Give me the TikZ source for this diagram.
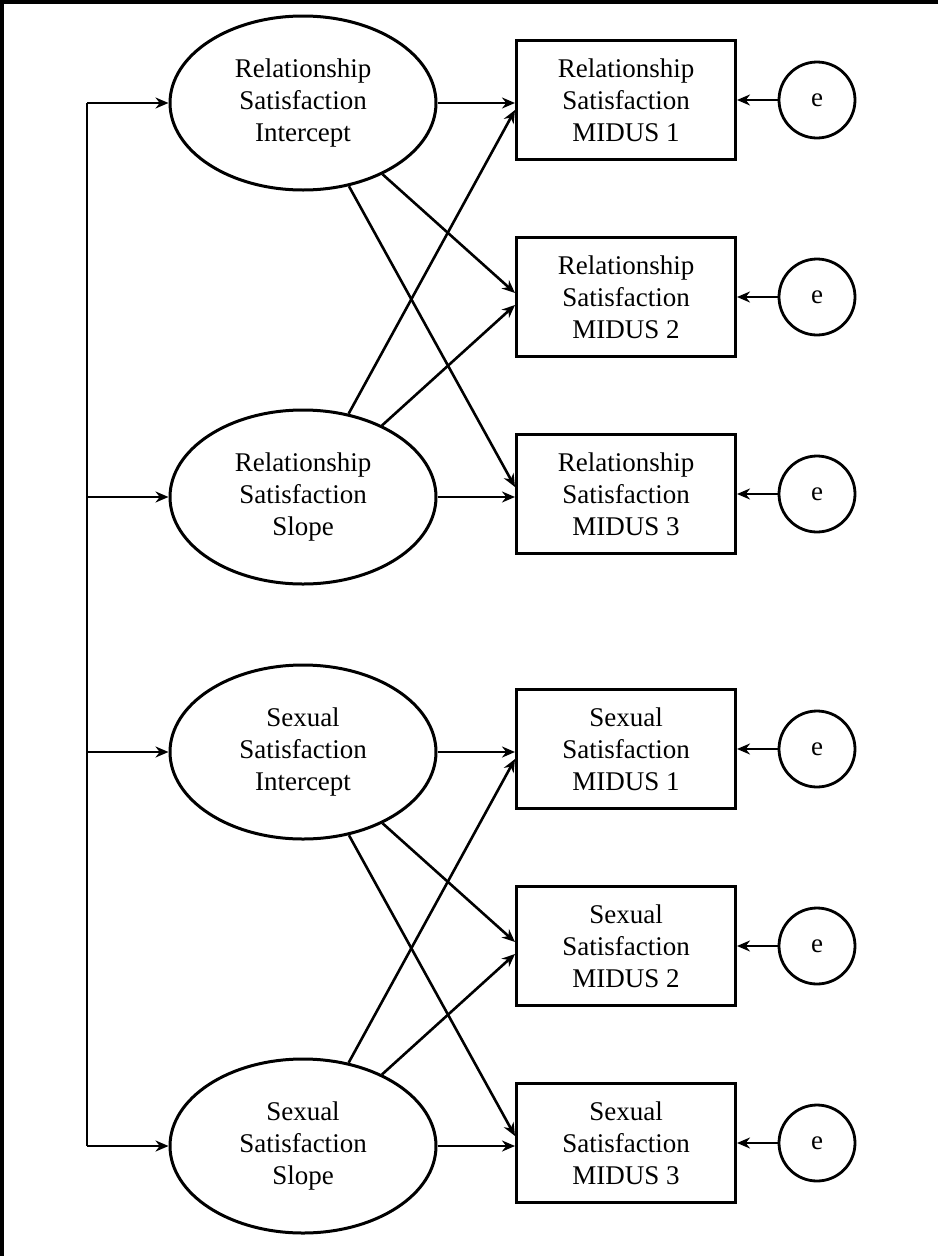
\documentclass[tikz,border=0pt]{standalone}
\usepackage{fontspec}
\setmainfont{Liberation Serif}
\usetikzlibrary{shapes, arrows.meta, positioning}

\begin{document}
\begin{tikzpicture}[x=1pt,y=1pt,->,>={Stealth[length=13pt,width=11pt]},line width=2.6pt,auto,node distance=197pt]
	\tikzset{every node/.style={font=\fontsize{27}{32}\selectfont, align=center, inner sep=0pt},
		latent/.style={ellipse, draw, line width=3pt, minimum width=266pt, minimum height=174pt},
		observed/.style={rectangle, draw, line width=3pt, minimum width=219pt, minimum height=119pt},
		error/.style={circle, draw, line width=2.8pt, minimum size=76pt}}
	\useasboundingbox (0,0) rectangle (938,-1256);
	\draw[-,line width=3.5pt] (938,-2) -- (2,-2) -- (2,-1256);

	\node[observed] (r1) at (626,-100) {Relationship\\Satisfaction\\MIDUS 1};
	\node[observed] (r2) [below of=r1] {Relationship\\Satisfaction\\MIDUS 2};
	\node[observed] (r3) [below of=r2] {Relationship\\Satisfaction\\MIDUS 3};
	\node[observed] (s1) [below of=r3, node distance=255pt] {Sexual\\Satisfaction\\MIDUS 1};
	\node[observed] (s2) [below of=s1] {Sexual\\Satisfaction\\MIDUS 2};
	\node[observed] (s3) [below of=s2] {Sexual\\Satisfaction\\MIDUS 3};

	\node[latent] (ri) [left of=r1, node distance=323pt, yshift=-3pt] {Relationship\\Satisfaction\\Intercept};
	\node[latent] (rs) [left of=r3, node distance=323pt, yshift=-3pt] {Relationship\\Satisfaction\\Slope};
	\node[latent] (si) [left of=s1, node distance=323pt, yshift=-3pt] {Sexual\\Satisfaction\\Intercept};
	\node[latent] (ss) [left of=s3, node distance=323pt, yshift=-3pt] {Sexual\\Satisfaction\\Slope};

	\node[error] (e1) [right of=r1, node distance=191pt] {e};
	\node[error] (e2) [right of=r2, node distance=191pt] {e};
	\node[error] (e3) [right of=r3, node distance=191pt] {e};
	\node[error] (e4) [right of=s1, node distance=191pt] {e};
	\node[error] (e5) [right of=s2, node distance=191pt] {e};
	\node[error] (e6) [right of=s3, node distance=191pt] {e};

	\coordinate (bus) at (87,0);
	\draw[-] (ri.west -| bus) -- (ss.west -| bus);

	\path
		(ri.west -| bus) edge (ri)
		(rs.west -| bus) edge (rs)
		(si.west -| bus) edge (si)
		(ss.west -| bus) edge (ss)

		(ri)
			edge (ri -| r1.west)
			edge ([yshift=4pt]r2.west)
			edge ([yshift=7pt]r3.west)
		(rs)
			edge ([yshift=-10pt]r1.west)
			edge ([yshift=-8pt]r2.west)
			edge (rs -| r3.west)
		(si)
			edge (si -| s1.west)
			edge ([yshift=4pt]s2.west)
			edge ([yshift=7pt]s3.west)
		(ss)
			edge ([yshift=-10pt]s1.west)
			edge ([yshift=-8pt]s2.west)
			edge (ss -| s3.west)

		(e1) edge (r1)
		(e2) edge (r2)
		(e3) edge (r3)
		(e4) edge (s1)
		(e5) edge (s2)
		(e6) edge (s3);
\end{tikzpicture}
\end{document}
